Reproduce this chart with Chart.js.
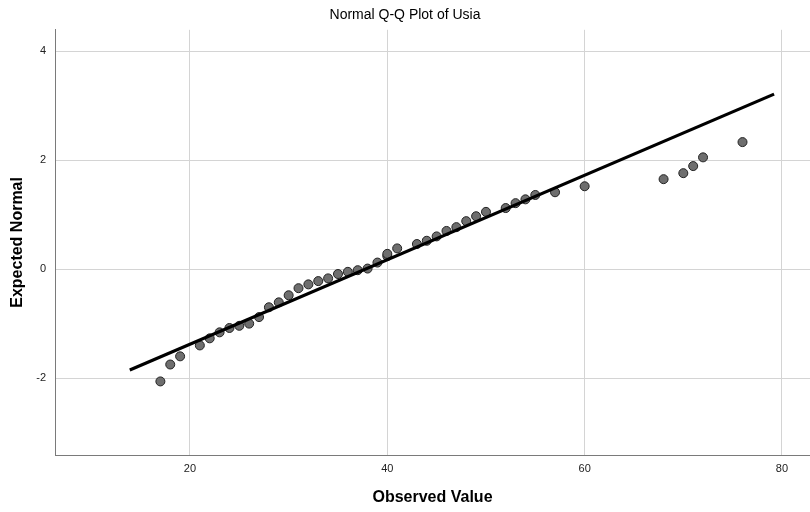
<!DOCTYPE html>
<html>
<head>
<meta charset="utf-8">
<script src="https://cdn.jsdelivr.net/npm/chart.js@4"></script>
<style>
  html, body { margin: 0; padding: 0; background: #fff; }
  #c { display: block; }
</style>
</head>
<body>
<canvas id="c" width="810" height="512"></canvas>
<script>
// Observed values (x) and expected normal values (y)
const observed = [17,18,19,21,22,23,24,25,26,27,28,29,30,31,32,33,34,35,36,37,38,39,40,40,41,43,44,45,46,47,48,49,50,52,53,54,55,57,60,68,70,71,72,76];
const expected = [-2.06,-1.75,-1.6,-1.4,-1.27,-1.16,-1.08,-1.04,-1.0,-0.88,-0.7,-0.61,-0.48,-0.35,-0.28,-0.22,-0.17,-0.09,-0.05,-0.02,0.01,0.12,0.24,0.28,0.38,0.46,0.52,0.6,0.7,0.77,0.88,0.97,1.05,1.12,1.21,1.28,1.36,1.41,1.52,1.65,1.76,1.89,2.05,2.33];
// Reference normal line end points
const lineX = [13.9, 79.2];
const lineY = [-1.85, 3.21];
// Tick labels
const xTicks = [20, 40, 60, 80];
const yTicks = [-2, 0, 2, 4];

const FONT = "'Liberation Sans', Arial, sans-serif";

const pts = observed.map((v, i) => ({ x: v, y: expected[i] }));
const linePts = lineX.map((v, i) => ({ x: v, y: lineY[i] }));

new Chart(document.getElementById('c'), {
  type: 'scatter',
  data: {
    datasets: [
      {
        data: linePts,
        showLine: true,
        borderColor: '#000',
        borderWidth: 3.2,
        pointRadius: 0,
        fill: false
      },
      {
        data: pts,
        pointRadius: 4.5,
        backgroundColor: '#6e6e6e',
        borderColor: '#222',
        borderWidth: 1
      }
    ]
  },
  options: {
    responsive: false,
    animation: false,
    layout: { autoPadding: false, padding: { left: 0, right: 0, top: 0, bottom: 0 } },
    plugins: {
      legend: { display: false },
      tooltip: { enabled: false },
      title: {
        display: true,
        text: 'Normal Q-Q Plot of Usia',
        color: '#000',
        font: { family: FONT, size: 14, weight: 'normal' },
        padding: { top: 7, bottom: 6 }
      }
    },
    scales: {
      x: {
        type: 'linear',
        min: 6.32,
        max: 82.84,
        afterBuildTicks: s => { s.ticks = xTicks.map(v => ({ value: v })); },
        afterFit: s => { s.height = 57; s.paddingLeft = 0; s.paddingRight = 0; },
        grid: { color: '#d4d4d4', lineWidth: 1, drawTicks: false },
        border: { color: '#7a7a7a', width: 1 },
        ticks: { color: '#222', font: { family: FONT, size: 11 }, padding: 7 },
        title: {
          display: true,
          text: 'Observed Value',
          color: '#000',
          font: { family: FONT, size: 16, weight: 'bold' },
          padding: { top: 0, bottom: 5 }
        }
      },
      y: {
        type: 'linear',
        min: -3.41,
        max: 4.39,
        afterBuildTicks: s => { s.ticks = yTicks.map(v => ({ value: v })); },
        afterFit: s => { s.width = 55; s.paddingTop = 0; s.paddingBottom = 0; },
        grid: { color: '#d4d4d4', lineWidth: 1, drawTicks: false },
        border: { color: '#7a7a7a', width: 1 },
        ticks: { color: '#222', font: { family: FONT, size: 11 }, padding: 9 },
        title: {
          display: true,
          text: 'Expected Normal',
          color: '#000',
          font: { family: FONT, size: 16, weight: 'bold' },
          padding: { top: 8, bottom: 0 }
        }
      }
    }
  }
});
</script>
</body>
</html>
